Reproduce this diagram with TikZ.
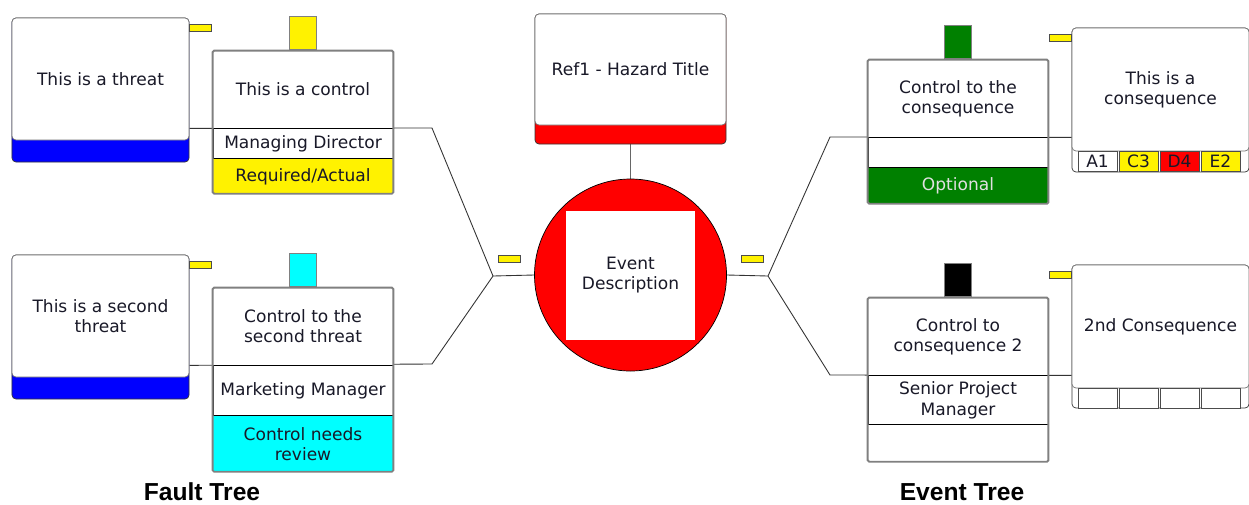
\documentclass[tikz,border=0pt]{standalone}
\usepackage{fontspec}
\setmainfont{DejaVu Sans}
\newfontfamily\labelfont{Liberation Sans}
\usepackage{tikz}
\usetikzlibrary{calc,fit,backgrounds,positioning}
\definecolor{darkgreen}{RGB}{0,128,0}
\definecolor{aqua}{RGB}{0,255,255}
\definecolor{boxtext}{RGB}{25,25,40}

\begin{document}
\begin{tikzpicture}[x=0.2mm,y=-0.2mm]

\tikzset{txt/.style={font=\fontsize{9.7}{11.5}\selectfont,text=boxtext,align=center,inner sep=0pt},
outerbox/.style={draw=black!80,rounded corners=0.8mm,inner sep=0pt,minimum width=35.4mm},
topbox/.style={txt,draw=black!55,fill=white,rounded corners=0.8mm,minimum width=35.4mm},
ctrltop/.style={txt,fill=white,minimum width=36mm,minimum height=15.4mm},
ctrlrow/.style={txt,draw=black,fill=white,minimum width=36mm},
ctrlstat/.style={txt,minimum width=36mm},
ctrlframe/.style={draw=black!50,line width=1.1pt,rounded corners=0.3mm,inner sep=0pt},
ctrltab/.style={draw=black!50,inner sep=0pt,minimum width=5.4mm,minimum height=6.6mm},
flag/.style={draw=black!70,fill=yellow,inner sep=0pt,minimum width=4.4mm,minimum height=1.4mm},
cell/.style={txt,draw=black!70,minimum width=7.8mm,minimum height=4mm},
link/.style={draw=black!80,line width=0.5pt},
treelabel/.style={font=\labelfont\bfseries\fontsize{14}{16}\selectfont,inner sep=0pt}}

\useasboundingbox (0,0) rectangle (1249,504);

% Threats
\node (threat1) [outerbox,fill=blue,minimum height=28.8mm] at (100.5,90) {};
\node (threat1txt) [topbox,minimum height=24.4mm,below=0pt of threat1.north] {This is a threat};
\node (flag1) [flag] at ($(threat1.north east)+(11,10.5)$) {};

\node (threat2) [outerbox,fill=blue,minimum height=28.8mm] at (100.5,327) {};
\node (threat2txt) [topbox,minimum height=24.4mm,below=0pt of threat2.north] {This is a second\\threat};
\node (flag2) [flag] at ($(threat2.north east)+(11,10.5)$) {};

% Controls on the threats
\node (ctrl1) [ctrltop] at (303,89.5) {This is a control};
\node (role1) [ctrlrow,minimum height=6mm,below=0pt of ctrl1] {Managing Director};
\node (stat1) [ctrlstat,fill=yellow,minimum height=6.8mm,below=0pt of role1] {Required/Actual};
\node (frame1) [ctrlframe,fit=(ctrl1)(stat1)] {};
\node (tab1) [ctrltab,fill=yellow,above=0pt of frame1] {};

\node (ctrl2) [ctrltop] at (303,326.5) {Control to the\\second threat};
\node (role2) [ctrlrow,minimum height=10mm,below=0pt of ctrl2] {Marketing Manager};
\node (stat2) [ctrlstat,fill=aqua,minimum height=11mm,below=0pt of role2] {Control needs\\review};
\node (frame2) [ctrlframe,fit=(ctrl2)(stat2)] {};
\node (tab2) [ctrltab,fill=aqua,above=0pt of frame2] {};

% Hazard and top event
\node (hazard) [outerbox,fill=red,minimum width=38.2mm,minimum height=26mm] at (630.5,79) {};
\node (hazardtxt) [topbox,minimum width=38.2mm,minimum height=22.2mm,below=0pt of hazard.north] {Ref1 - Hazard Title};

\node (event) [circle,draw=black,fill=red,minimum size=38.4mm,inner sep=0pt] at (630.5,275) {};
\node (eventtxt) [txt,fill=white,minimum size=25.8mm] at (event.center) {Event\\Description};
\node (flagL) [flag] at ($(event.west)+(-24.5,-16.5)$) {};
\node (flagR) [flag] at ($(event.east)+(25.5,-16.5)$) {};

% Controls on the consequences
\node (ctrl3) [ctrltop] at (958,98.5) {Control to the\\consequence};
\node (role3) [ctrlrow,minimum height=6mm,below=0pt of ctrl3] {};
\node (stat3) [ctrlstat,fill=darkgreen,text=white!88!black,minimum height=7mm,below=0pt of role3] {Optional};
\node (frame3) [ctrlframe,fit=(ctrl3)(stat3)] {};
\node (tab3) [ctrltab,fill=darkgreen,above=0pt of frame3] {};

\node (ctrl4) [ctrltop] at (958,336.5) {Control to\\consequence 2};
\node (role4) [ctrlrow,minimum height=9.8mm,below=0pt of ctrl4] {Senior Project\\Manager};
\node (stat4) [ctrlstat,fill=white,minimum height=7.2mm,below=0pt of role4] {};
\node (frame4) [ctrlframe,fit=(ctrl4)(stat4)] {};
\node (tab4) [ctrltab,fill=black,above=0pt of frame4] {};

% Consequences
\node (cons1) [outerbox,fill=white,minimum height=28.8mm] at (1160.5,100) {};
\node (cons1txt) [topbox,minimum height=24.6mm,below=0pt of cons1.north] {This is a\\consequence};
\node (flag3) [flag] at ($(cons1.north west)+(-11,10)$) {};
\foreach \lab/\col [count=\i] in {A1/white,C3/yellow,D4/red,E2/yellow}
  \node (cellA\i) [cell,fill=\col] at ({1056.5+41*\i},161.5) {\lab};

\node (cons2) [outerbox,fill=white,minimum height=28.6mm] at (1160.5,336.5) {};
\node (cons2txt) [topbox,minimum height=24.6mm,below=0pt of cons2.north] {2nd Consequence};
\node (flag4) [flag] at ($(cons2.north west)+(-11,10)$) {};
\foreach \i in {1,...,4}
  \node (cellB\i) [cell,fill=white] at ({1056.5+41*\i},398) {};

% Connectors
\coordinate (kneeT1) at (432,128);
\coordinate (kneeT2) at (432,364);
\coordinate (joinL) at (493,276);
\coordinate (joinR) at (768,276);
\coordinate (kneeC1) at (830,137);
\coordinate (kneeC2) at (830,375);
\begin{scope}[on background layer]
\draw[link] (threat1.east |- role1.north) -- (kneeT1) -- (joinL) -- (event.west);
\draw[link] (threat2.east |- role2.north) -- (kneeT2) -- (joinL);
\draw[link] (event.east) -- (joinR) -- (kneeC1) -- (cons1.west |- role3.north);
\draw[link] (joinR) -- (kneeC2) -- (cons2.west |- role4.north);
\draw[draw=black!60,line width=1pt] (hazard.south) -- (event.north);
\end{scope}

% Labels
\node (faultlabel) [treelabel] at (202,492) {Fault Tree};
\node (eventlabel) [treelabel] at (962,492) {Event Tree};

\end{tikzpicture}
\end{document}
